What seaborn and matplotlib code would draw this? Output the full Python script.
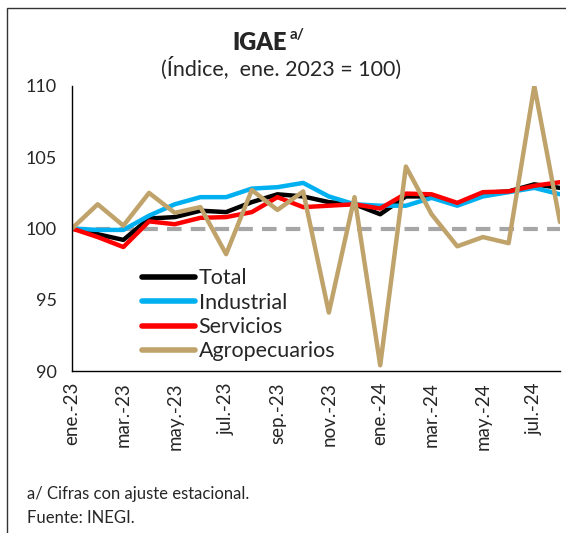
import numpy as np
import pandas as pd
import matplotlib
matplotlib.use("Agg")
import matplotlib.pyplot as plt
import seaborn as sns
from matplotlib.patches import Rectangle

months = ["ene.-23", "feb.-23", "mar.-23", "abr.-23", "may.-23", "jun.-23",
          "jul.-23", "ago.-23", "sep.-23", "oct.-23", "nov.-23", "dic.-23",
          "ene.-24", "feb.-24", "mar.-24", "abr.-24", "may.-24", "jun.-24",
          "jul.-24", "ago.-24"]

total = [100.0, 99.6, 99.2, 100.7, 100.8, 101.25, 101.15, 101.85, 102.4, 102.25,
         101.85, 101.7, 101.0, 102.25, 102.25, 101.7, 102.5, 102.6, 103.1, 102.85]
industrial = [100.0, 99.9, 99.9, 100.9, 101.7, 102.2, 102.2, 102.8, 102.9, 103.2,
              102.25, 101.7, 101.6, 101.6, 102.15, 101.6, 102.25, 102.55, 102.85, 102.4]
servicios = [100.0, 99.4, 98.7, 100.5, 100.3, 100.75, 100.8, 101.15, 102.2, 101.5,
             101.6, 101.7, 101.4, 102.45, 102.4, 101.8, 102.55, 102.6, 103.0, 103.25]
agro = [100.0, 101.7, 100.2, 102.5, 101.1, 101.5, 98.2, 102.7, 101.3, 102.6,
        94.1, 102.2, 90.4, 104.35, 101.0, 98.75, 99.4, 98.97, 110.0, 100.45]

series_names = ["Total", "Industrial", "Servicios", "Agropecuarios"]
series_colors = ["#000000", "#00B0F0", "#FF0000", "#BFA36B"]
base_value = 100
y_ticks = [90, 95, 100, 105, 110]

df = pd.DataFrame({"mes": np.arange(len(months)), "Total": total,
                   "Industrial": industrial, "Servicios": servicios,
                   "Agropecuarios": agro})
long_df = df.melt(id_vars="mes", var_name="serie", value_name="indice")

sns.set_style("white")
plt.rcParams["font.family"] = ["Lato", "DejaVu Sans"]

fig = plt.figure(figsize=(5.66, 5.33), dpi=100)
ax = fig.add_axes([72 / 566, 1 - 371 / 533, 488 / 566, 285 / 533])

ax.axhline(base_value, color="#A6A6A6", lw=3, linestyle=(0, (3.5, 2.2)), zorder=1)
sns.lineplot(data=long_df, x="mes", y="indice", hue="serie",
             hue_order=series_names, palette=series_colors, lw=3.2, ax=ax,
             zorder=2)

ax.set_xlim(0, len(months) - 1)
ax.set_ylim(90, 110)
ax.set_yticks(y_ticks)
ax.set_yticklabels([str(t) for t in y_ticks], fontsize=13)
ax.set_xticks(np.arange(0, len(months), 2))
ax.set_xticklabels(months[::2], rotation=90, fontsize=13.5)
ax.set_xlabel("")
ax.set_ylabel("")
ax.tick_params(axis="y", direction="in", length=6, width=1, color="black", pad=11)
ax.tick_params(axis="x", direction="inout", length=10, width=1, color="black", pad=3)
for side in ["top", "right"]:
    ax.spines[side].set_visible(False)
for side in ["left", "bottom"]:
    ax.spines[side].set_color("black")
    ax.spines[side].set_linewidth(1)

leg = ax.legend(loc="upper left", bbox_to_anchor=(0.125, 0.39), frameon=False,
                fontsize=15.5, handlelength=2.5, handletextpad=0.15,
                labelspacing=0.2, borderaxespad=0)
for line in leg.get_lines():
    line.set_linewidth(4)

fig.text(287 / 566, 1 - 43 / 533, "IGAE", ha="right", va="center",
         fontsize=17, fontweight="heavy")
fig.text(290 / 566, 1 - 35 / 533, "a/", ha="left", va="center",
         fontsize=11, fontweight="bold")
fig.text(281 / 566, 1 - 68 / 533, "(Índice,  ene. 2023 = 100)", ha="center",
         va="center", fontsize=15.5)
fig.text(27 / 566, 1 - 494 / 533, "a/ Cifras con ajuste estacional.",
         ha="left", va="center", fontsize=12)
fig.text(27 / 566, 1 - 518 / 533, "Fuente: INEGI.", ha="left", va="center",
         fontsize=12)

fig.patches.append(Rectangle((7 / 566, -0.05), 1.2, 1 - 8 / 533 + 0.05,
                             transform=fig.transFigure, fill=False,
                             edgecolor="#333333", lw=1))

fig.savefig("out.png", dpi=100)
